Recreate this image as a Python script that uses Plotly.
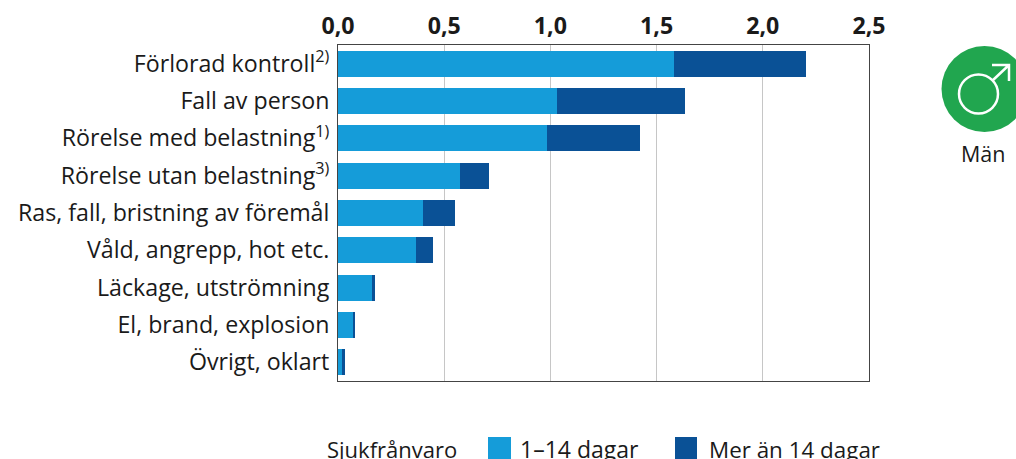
import plotly.graph_objects as go

categories = ["Förlorad kontroll<sup>2)</sup>", "Fall av person", "Rörelse med belastning<sup>1)</sup>",
              "Rörelse utan belastning<sup>3)</sup>", "Ras, fall, bristning av föremål",
              "Våld, angrepp, hot etc.", "Läckage, utströmning", "El, brand, explosion", "Övrigt, oklart"]
short_absence = [1.58, 1.03, 0.985, 0.575, 0.40, 0.365, 0.16, 0.07, 0.02]
long_absence = [0.625, 0.605, 0.435, 0.135, 0.15, 0.08, 0.012, 0.01, 0.012]
tick_values = [0, 0.5, 1, 1.5, 2, 2.5]
tick_labels = ["0,0", "0,5", "1,0", "1,5", "2,0", "2,5"]
series_names = ["1–14 dagar", "Mer än 14 dagar"]

L, R, T, B = 338, 869, 45, 381
W, H = 1016, 459
FONT = "Open Sans"
TXT = "#1a1a1a"
LIGHT, DARK = "#159cd9", "#0a5196"
px = lambda x: (x - L) / (R - L)
py = lambda y: (B - y) / (B - T)

fig = go.Figure()
fig.add_bar(y=categories, x=short_absence, name=series_names[0], orientation="h", marker=dict(color=LIGHT, line_width=0))
fig.add_bar(y=categories, x=long_absence, name=series_names[1], orientation="h", marker=dict(color=DARK, line_width=0))

shapes = [
    dict(type="circle", xref="paper", yref="paper", x0=px(941.5), x1=px(1027.5), y0=py(132), y1=py(46),
         fillcolor="#21a64f", line_width=0),
    dict(type="circle", xref="paper", yref="paper", x0=px(959), x1=px(998), y0=py(113.5), y1=py(74.5),
         fillcolor="rgba(0,0,0,0)", line=dict(color="white", width=2.5)),
    dict(type="path", xref="paper", yref="paper",
         path=f"M {px(992)} {py(81)} L {px(1009)} {py(65)} M {px(992)} {py(65)} L {px(1009)} {py(65)} L {px(1009)} {py(81)}",
         line=dict(color="white", width=2.5)),
    dict(type="rect", xref="paper", yref="paper", x0=px(488), x1=px(511), y0=py(459), y1=py(437), fillcolor=LIGHT, line_width=0),
    dict(type="rect", xref="paper", yref="paper", x0=px(675), x1=px(697), y0=py(459), y1=py(437), fillcolor=DARK, line_width=0),
]
def label(text, x, y, size=22, anchor="left"):
    return dict(text=text, xref="paper", yref="paper", x=px(x), y=py(y), showarrow=False,
                xanchor=anchor, yanchor="middle", font=dict(family=FONT, size=size, color=TXT))
annotations = [
    label("Män", 983, 153, 21.5, "center"),
    label("Sjukfrånvaro", 325, 449, 22),
    label(series_names[0], 518, 449, 23),
    label(series_names[1], 707, 449, 22.4),
]

fig.update_layout(
    width=W, height=H, autosize=False, barmode="stack", bargap=0.3, showlegend=False,
    separators=", ", paper_bgcolor="white", plot_bgcolor="white",
    margin=dict(l=L, r=W - R, t=T, b=H - B, autoexpand=False),
    font=dict(family=FONT, size=23.2, color=TXT),
    shapes=shapes, annotations=annotations,
    xaxis=dict(side="top", range=[0, 2.5], tickmode="array", tickvals=tick_values, ticktext=tick_labels,
               tickfont=dict(family=FONT, size=23.2, color=TXT, weight="bold"), ticks="", ticklabelstandoff=1,
               showgrid=True, gridcolor="#c6c6c6", gridwidth=1, zeroline=False, automargin=False,
               showline=True, mirror=True, linecolor="#444444", linewidth=1),
    yaxis=dict(autorange="reversed", ticks="", ticklabelstandoff=3, tickfont=dict(family=FONT, size=23.2, color=TXT),
               showline=True, mirror=True, linecolor="#444444", linewidth=1, showgrid=False, zeroline=False, automargin=False),
)
fig.write_html("out.html", config=dict(displayModeBar=False),
               post_script="document.body.style.margin='0';document.body.style.overflow='hidden';")
